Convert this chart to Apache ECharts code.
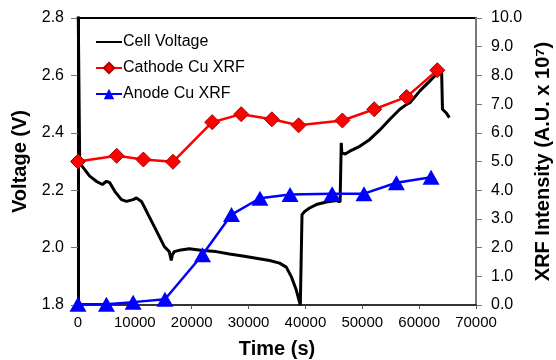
<!DOCTYPE html>
<html>
<head>
<meta charset="utf-8">
<script src="https://cdn.jsdelivr.net/npm/echarts@6/dist/echarts.min.js"></script>
<style>
  html, body { margin: 0; padding: 0; background: #fff; }
  #chart { width: 556px; height: 360px; }
</style>
</head>
<body>
<div id="chart"></div>
<script>
// cell voltage trace [time s, V]
const voltage = [
  [0, 2.9], [300, 2.295], [1180, 2.272], [2060, 2.249], [3230, 2.231], [4290, 2.220],
  [5000, 2.231], [5590, 2.226], [6470, 2.196], [7640, 2.167], [8520, 2.161], [9700, 2.167],
  [10280, 2.173], [11160, 2.161], [11760, 2.138], [12340, 2.115], [13400, 2.074],
  [14290, 2.039], [15170, 2.004], [16050, 1.986], [16400, 1.955], [16600, 1.975],
  [16930, 1.986], [18110, 1.992], [19580, 1.996], [21920, 1.990], [24290, 1.986],
  [26630, 1.978], [28980, 1.971], [31340, 1.963], [33690, 1.955], [35450, 1.946],
  [36630, 1.932], [37510, 1.899], [38390, 1.852], [39100, 1.800], [39300, 1.800],
  [39400, 2.115], [39860, 2.126], [40740, 2.138], [41920, 2.150], [43680, 2.159],
  [45450, 2.164], [46100, 2.159], [46300, 2.365], [46400, 2.330], [47000, 2.326],
  [47800, 2.336], [49560, 2.353], [51320, 2.377], [53090, 2.410], [54850, 2.447],
  [56610, 2.482], [57790, 2.499], [58380, 2.505], [60140, 2.546], [61900, 2.581],
  [63080, 2.604], [63960, 2.610], [64100, 2.482], [64730, 2.470], [65310, 2.453]
];
// XRF intensity (A.U. x 1e7)
const cathodeTime = [0, 6800, 11500, 16700, 23600, 28700, 34100, 38800, 46500, 52100, 57800, 63200];
const cathodeXrf = [5.0, 5.2, 5.07, 4.99, 6.37, 6.65, 6.47, 6.26, 6.43, 6.82, 7.25, 8.18];
const anodeTime = [0, 5000, 9700, 15300, 21900, 27000, 32000, 37300, 44700, 50300, 56000, 62100];
const anodeXrf = [0.03, 0.03, 0.1, 0.2, 1.75, 3.15, 3.72, 3.85, 3.88, 3.88, 4.26, 4.45];

const font = 'Liberation Sans, Arial, sans-serif';
const chart = echarts.init(document.getElementById('chart'));

const option = {
  animation: false,
  textStyle: { fontFamily: font },
  grid: {
    left: 78, right: 80, top: 18, bottom: 55, outerBoundsMode: 'none',
    show: true, borderColor: '#000', borderWidth: 2
  },
  legend: {
    orient: 'vertical', left: 90, top: 29, itemWidth: 26, itemHeight: 13, itemGap: 10,
    textStyle: { fontFamily: font, fontSize: 16, color: '#000', padding: [0, 0, 0, -4] },
    data: [
      { name: 'Cell Voltage', itemStyle: { opacity: 0 } },
      'Cathode Cu XRF', 'Anode Cu XRF'
    ]
  },
  xAxis: {
    type: 'value', min: 0, max: 70000, interval: 10000,
    name: 'Time (s)', nameLocation: 'middle', nameGap: 34,
    nameTextStyle: { fontSize: 20, fontWeight: 'bold', color: '#000' },
    axisLine: { lineStyle: { color: '#333', width: 2 } },
    axisTick: { lineStyle: { color: '#555' }, length: 4 },
    axisLabel: { fontSize: 15, color: '#000', margin: 10, formatter: v => String(v) },
    splitLine: { show: false }
  },
  yAxis: [{
    type: 'value', min: 1.8, max: 2.8, interval: 0.2, position: 'left',
    name: 'Voltage (V)', nameLocation: 'middle', nameGap: 46, nameRotate: 90,
    nameTextStyle: { fontSize: 20, fontWeight: 'bold', color: '#000' },
    axisLine: { show: true, lineStyle: { color: '#000', width: 3 } },
    axisTick: { show: true, lineStyle: { color: '#777' }, length: 7 },
    axisLabel: { fontSize: 16, color: '#000', margin: 14, formatter: v => v.toFixed(1) },
    splitLine: { show: false }
  }, {
    type: 'value', min: 0, max: 10, interval: 1, position: 'right',
    name: 'XRF Intensity (A.U. x 10⁷)', nameLocation: 'middle', nameGap: 57, nameRotate: 90,
    nameTextStyle: { fontSize: 20, fontWeight: 'bold', color: '#000' },
    axisLine: { show: true, lineStyle: { color: '#777', width: 2 } },
    axisTick: { show: true, lineStyle: { color: '#777' }, length: 6 },
    axisLabel: { fontSize: 16, color: '#000', margin: 15, formatter: v => v.toFixed(1) },
    splitLine: { show: false }
  }],
  series: [{
    name: 'Cell Voltage', type: 'line', yAxisIndex: 0, data: voltage,
    showSymbol: false, symbol: 'none', clip: true,
    lineStyle: { color: '#000', width: 3 }, itemStyle: { color: '#000' }, z: 1
  }, {
    name: 'Cathode Cu XRF', type: 'line', yAxisIndex: 1,
    data: cathodeTime.map((t, i) => [t, cathodeXrf[i]]),
    symbol: 'diamond', symbolSize: 15,
    lineStyle: { color: '#ff0000', width: 2.5 },
    itemStyle: { color: '#ff0000', borderColor: '#aa0000', borderWidth: 1 }, z: 3
  }, {
    name: 'Anode Cu XRF', type: 'line', yAxisIndex: 1,
    data: anodeTime.map((t, i) => [t, anodeXrf[i]]),
    symbol: 'triangle', symbolSize: [17, 15],
    lineStyle: { color: '#0000ff', width: 2.5 },
    itemStyle: { color: '#0000ff' }, z: 2
  }]
};
chart.setOption(option);
</script>
</body>
</html>
